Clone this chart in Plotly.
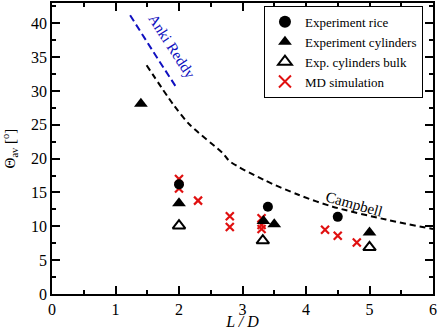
import plotly.graph_objects as go

# Data
rice_x = [2.0, 3.4, 4.5]
rice_y = [16.2, 12.9, 11.4]

cyl_x = [1.4, 2.0, 3.33, 3.5, 5.0]
cyl_y = [28.1, 13.4, 10.8, 10.3, 9.1]

bulk_x = [2.0, 3.32, 5.0]
bulk_y = [10.1, 7.9, 6.9]

md_x = [2.0, 2.0, 2.3, 2.8, 2.8, 3.3, 3.3, 3.3, 4.3, 4.5, 4.8]
md_y = [17.0, 15.6, 13.8, 11.5, 9.9, 11.2, 10.2, 9.6, 9.5, 8.6, 7.6]

campbell_x = [1.49, 1.91, 2.17, 2.69, 2.80, 3.35, 3.87, 4.42, 5.26, 6.0]
campbell_y = [33.8, 28.0, 25.0, 20.8, 19.6, 16.8, 14.7, 12.9, 11.0, 9.6]

anki_x = [1.23, 1.595, 1.96]
anki_y = [41.2, 35.8, 30.5]

FONT = "Liberation Serif, Times New Roman, DejaVu Serif, serif"

fig = go.Figure()

fig.add_trace(go.Scatter(x=campbell_x, y=campbell_y, mode="lines", showlegend=False,
                         line=dict(color="black", width=2, dash="6px,4px", shape="spline", smoothing=0.8)))
fig.add_trace(go.Scatter(x=anki_x, y=anki_y, mode="lines", showlegend=False,
                         line=dict(color="#1010c0", width=2, dash="7px,4px", shape="spline")))

fig.add_trace(go.Scatter(x=md_x, y=md_y, mode="markers", name="MD simulation", legendrank=4,
                         marker=dict(symbol="x-thin", size=8, color="#e01010",
                                     line=dict(width=2.2, color="#e01010"))))
fig.add_trace(go.Scatter(x=rice_x, y=rice_y, mode="markers", name="Experiment rice", legendrank=1,
                         marker=dict(symbol="circle", size=10, color="black")))
fig.add_trace(go.Scatter(x=cyl_x, y=cyl_y, mode="markers", name="Experiment cylinders", legendrank=2,
                         marker=dict(symbol="triangle-up", size=12, color="black")))
fig.add_trace(go.Scatter(x=bulk_x, y=bulk_y, mode="markers", name="Exp. cylinders bulk", legendrank=3,
                         marker=dict(symbol="triangle-up-open", size=11, color="black",
                                     line=dict(width=2, color="black"))))

fig.add_annotation(x=4.75, y=13.3, text="Campbell", showarrow=False, textangle=16,
                   font=dict(family=FONT, size=15, color="black"))
fig.add_annotation(x=1.88, y=36.6, text="Anki Reddy", showarrow=False, textangle=57,
                   font=dict(family=FONT, size=15, color="#1010c0"))

axis_common = dict(showline=True, linecolor="black", linewidth=1.5, mirror="allticks",
                   ticks="inside", ticklen=8, tickwidth=1.5, tickcolor="black",
                   showgrid=False, zeroline=False, automargin=False,
                   tickfont=dict(family=FONT, size=16, color="black"))

fig.update_xaxes(range=[0, 6], dtick=1, tick0=0,
                 minor=dict(dtick=0.5, ticks="inside", ticklen=4, tickwidth=1.5, tickcolor="black"),
                 title=dict(text="<i>L / D</i>", font=dict(family=FONT, size=16, color="black"), standoff=3),
                 **axis_common)
fig.update_yaxes(range=[0, 43], dtick=5, tick0=0,
                 minor=dict(dtick=2.5, ticks="inside", ticklen=4, tickwidth=1.5, tickcolor="black"),
                 title=dict(text="Θ<sub>av</sub> [<sup>o</sup>]", font=dict(family=FONT, size=15, color="black"), standoff=12),
                 **axis_common)

fig.update_layout(
    width=440, height=330,
    margin=dict(l=52, r=7, t=3, b=36),
    paper_bgcolor="white", plot_bgcolor="white",
    font=dict(family=FONT, size=14, color="black"),
    legend=dict(x=0.765, y=0.832, xanchor="center", yanchor="middle",
                bgcolor="white", bordercolor="black", borderwidth=1,
                font=dict(family=FONT, size=13, color="black"),
                tracegroupgap=0, itemsizing="constant", traceorder="normal"),
)

fig.write_html("out.html", config={"displayModeBar": False},
               post_script="document.body.style.margin='0';document.body.style.overflow='hidden';")
